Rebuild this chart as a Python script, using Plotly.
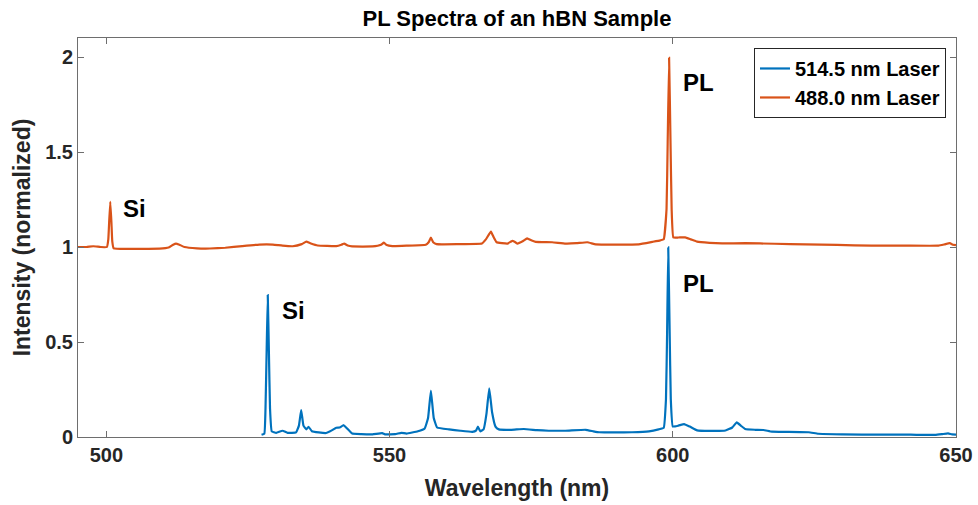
import plotly.graph_objects as go

# 514.5 nm laser spectrum (wavelength nm, normalized intensity)
wl_514 = [527.4, 527.9, 528.1, 528.3, 528.5, 528.7, 528.9, 529.2, 530.0, 531.1, 532.0, 533.5,
          534.0, 534.4, 534.8, 535.3, 535.7, 536.3, 537.5, 538.8, 539.8, 540.6, 541.2, 541.9,
          542.5, 543.4, 545.0, 547.0, 548.7, 549.2, 551.0, 552.1, 553.0, 555.0, 556.2, 556.8,
          557.3, 557.8, 558.4, 560.5, 562.5, 564.6, 565.3, 565.6, 566.0, 566.6, 567.1, 567.6,
          568.1, 568.7, 569.3, 571.5, 573.7, 576.0, 578.1, 581.0, 584.6, 586.0, 587.0, 590.0,
          592.8, 595.8, 597.5, 598.4, 598.8, 599.0, 599.2, 599.45, 599.65, 600.0, 601.0, 602.0,
          603.0, 604.3, 606.5, 609.3, 610.5, 611.3, 612.0, 612.8, 614.5, 616.0, 617.5, 620.0,
          624.0, 625.7, 630.0, 636.8, 642.0, 646.3, 647.5, 648.6, 649.3, 650.0]
int_514 = [0.012, 0.018, 0.15, 0.45, 0.747, 0.45, 0.15, 0.03, 0.022, 0.033, 0.022, 0.024,
           0.06, 0.142, 0.06, 0.04, 0.054, 0.03, 0.024, 0.021, 0.035, 0.049, 0.05, 0.062,
           0.045, 0.018, 0.015, 0.014, 0.02, 0.014, 0.015, 0.022, 0.018, 0.03, 0.045, 0.1,
           0.244, 0.1, 0.05, 0.04, 0.033, 0.027, 0.035, 0.055, 0.03, 0.04, 0.12, 0.256,
           0.13, 0.055, 0.04, 0.038, 0.042, 0.036, 0.033, 0.033, 0.038, 0.03, 0.025, 0.024,
           0.025, 0.03, 0.04, 0.048, 0.2, 0.55, 0.998, 0.55, 0.2, 0.055, 0.06, 0.068,
           0.055, 0.035, 0.032, 0.034, 0.05, 0.077, 0.06, 0.042, 0.038, 0.037, 0.028, 0.027,
           0.025, 0.017, 0.014, 0.012, 0.012, 0.011, 0.015, 0.019, 0.014, 0.013]

# 488.0 nm laser spectrum (offset by +1)
wl_488 = [495.0, 496.5, 497.7, 499.0, 500.1, 500.35, 500.5, 500.7, 500.9, 501.05, 501.3, 503.6,
          506.0, 509.4, 511.0, 511.8, 512.3, 512.9, 513.8, 516.0, 518.3, 521.0, 524.0, 527.0,
          529.4, 530.3, 531.1, 532.9, 534.5, 535.3, 536.0, 537.3, 540.6, 541.5, 542.0, 542.6,
          543.4, 547.0, 548.5, 549.0, 549.5, 550.5, 553.0, 556.4, 556.9, 557.3, 557.7, 558.3,
          562.0, 566.3, 567.0, 567.9, 568.4, 568.9, 570.8, 571.4, 571.7, 572.2, 572.6, 573.5,
          574.3, 575.0, 575.8, 578.7, 581.1, 583.0, 584.9, 586.4, 590.0, 594.0, 596.4, 597.8,
          598.4, 598.9, 599.1, 599.35, 599.6, 599.8, 600.1, 601.0, 602.2, 603.2, 604.3, 606.5,
          608.7, 612.8, 618.0, 623.4, 629.0, 635.1, 641.0, 646.9, 648.0, 648.9, 649.5, 650.0]
int_488 = [1.0, 1.0, 1.004, 1.0, 1.0, 1.04, 1.13, 1.238, 1.13, 1.03, 0.993, 0.99,
           0.99, 0.991, 0.997, 1.012, 1.018, 1.012, 1.0, 0.993, 0.992, 0.996, 1.005, 1.013,
           1.013, 1.01, 1.007, 1.004, 1.015, 1.028, 1.02, 1.008, 1.005, 1.012, 1.018, 1.008,
           1.003, 1.003, 1.012, 1.023, 1.01, 1.005, 1.007, 1.012, 1.025, 1.049, 1.025, 1.015,
           1.015, 1.018, 1.04, 1.081, 1.05, 1.025, 1.018, 1.028, 1.033, 1.025, 1.018, 1.03,
           1.045, 1.035, 1.027, 1.025, 1.018, 1.02, 1.025, 1.014, 1.013, 1.014, 1.027, 1.035,
           1.04, 1.2, 1.55, 1.996, 1.55, 1.2, 1.05, 1.05, 1.051, 1.04, 1.028, 1.022,
           1.019, 1.02, 1.017, 1.014, 1.011, 1.007, 1.007, 1.007, 1.014, 1.02, 1.012, 1.01]

# Annotation labels (text, x, y)
labels = [("Si", 502.6, 1.205), ("PL", 601.4, 1.865), ("Si", 530.7, 0.668), ("PL", 601.4, 0.81)]

x_ticks = [500, 550, 600, 650]
y_ticks = [0, 0.5, 1, 1.5, 2]
y_tick_text = ["0", "0.5", "1", "1.5", "2"]

FONT = "Liberation Sans, Arial, sans-serif"
TXT = "#262626"
AX = "#6e6e6e"

fig = go.Figure()
fig.add_trace(go.Scatter(x=wl_514, y=int_514, mode="lines", name="514.5 nm Laser",
                         line=dict(color="#0072BD", width=2.2, shape="spline", smoothing=0.3)))
fig.add_trace(go.Scatter(x=wl_488, y=int_488, mode="lines", name="488.0 nm Laser",
                         line=dict(color="#D95319", width=2.2, shape="spline", smoothing=0.3)))

for t, x, y in labels:
    fig.add_annotation(x=x, y=y, text=t, showarrow=False, xanchor="left", yanchor="middle",
                       font=dict(family=FONT, size=24, color="black", weight="bold"))

axis_common = dict(showline=True, linecolor=AX, linewidth=1, mirror="ticks", ticks="inside",
                   ticklen=6, tickcolor=AX, tickwidth=1, showgrid=False, zeroline=False,
                   automargin=False,
                   tickfont=dict(family=FONT, size=20, color=TXT, weight="bold"))

fig.update_layout(
    width=978, height=505,
    margin=dict(l=78, r=22, t=38, b=68, autoexpand=False),
    paper_bgcolor="white", plot_bgcolor="white",
    title=dict(text="PL Spectra of an hBN Sample", x=0.5, xref="paper", xanchor="center",
               y=1 - 18 / 505, yref="container", yanchor="middle",
               font=dict(family=FONT, size=22, color="black", weight="bold")),
    xaxis=dict(range=[495, 650], tickvals=x_ticks,
               title=dict(text="Wavelength (nm)", standoff=14,
                          font=dict(family=FONT, size=23, color=TXT, weight="bold")),
               **axis_common),
    yaxis=dict(range=[0, 2.1], tickvals=y_ticks, ticktext=y_tick_text,
               title=dict(text="Intensity (normalized)", standoff=8,
                          font=dict(family=FONT, size=23, color=TXT, weight="bold")),
               **axis_common),
    legend=dict(x=0.9886, y=0.975, xanchor="right", yanchor="top", bgcolor="white",
                bordercolor="#262626", borderwidth=1, tracegroupgap=0,
                font=dict(family=FONT, size=20, color="black", weight="bold")),
    showlegend=True,
)

fig.write_html("out.html")
